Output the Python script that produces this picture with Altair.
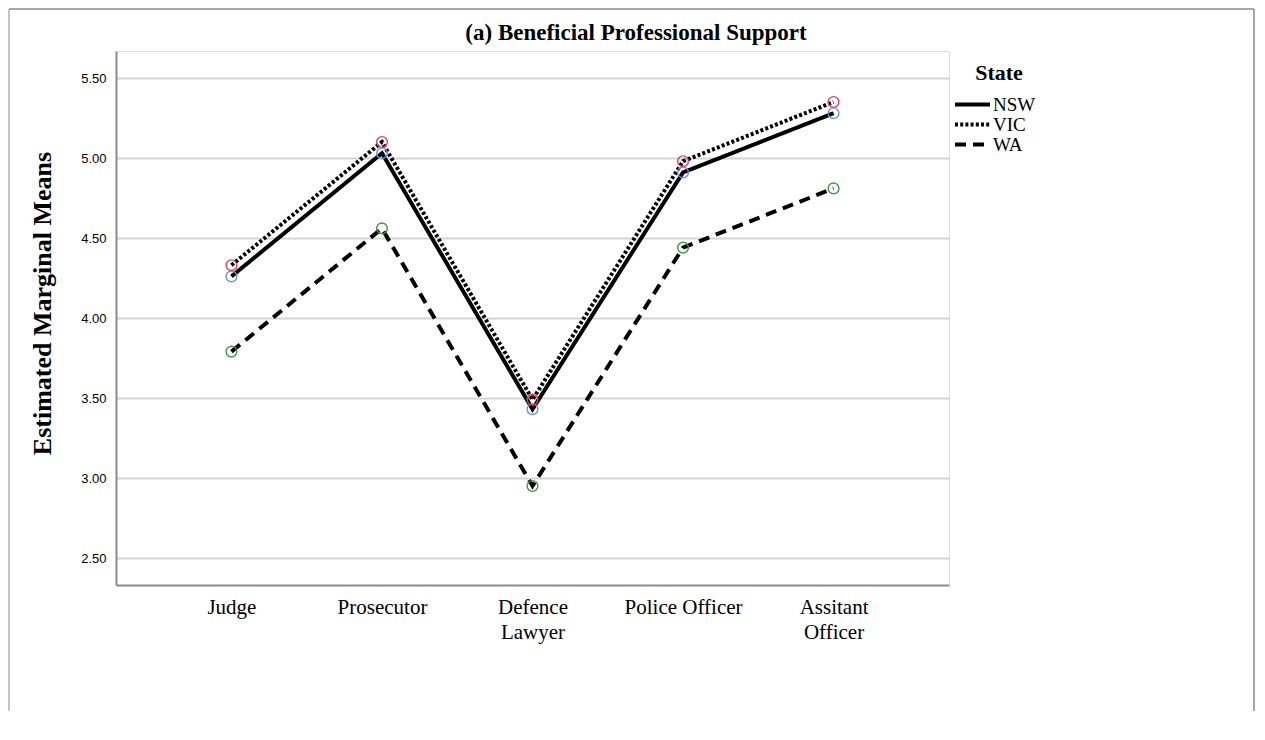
import altair as alt
import pandas as pd

roles = ["Judge", "Prosecutor", "Defence Lawyer", "Police Officer", "Assitant Officer"]
states = ["NSW", "VIC", "WA"]
nsw = [4.26, 5.03, 3.43, 4.91, 5.28]
vic = [4.33, 5.10, 3.49, 4.98, 5.35]
wa = [3.79, 4.56, 2.95, 4.44, 4.81]
marker_colors = ["#5f97df", "#dc3f5f", "#3f9a3f"]
y_ticks = [2.5, 3.0, 3.5, 4.0, 4.5, 5.0, 5.5]
title_text = "(a) Beneficial Professional Support"
y_title = "Estimated Marginal Means"

rows = []
for st, vals in zip(states, [nsw, vic, wa]):
    for r, v in zip(roles, vals):
        rows.append({"Role": r, "State": st, "Mean": v})
df = pd.DataFrame(rows)

SERIF = "Liberation Serif"
W, H = 833, 534

x_enc = alt.X("Role:N", sort=roles,
              scale=alt.Scale(type="point", domain=roles, padding=0.767),
              axis=alt.Axis(title=None, labelAngle=0, ticks=False, grid=False,
                            labelFont=SERIF, labelFontSize=21, labelColor="#000",
                            labelPadding=11, labelLineHeight=25,
                            labelExpr="datum.label == 'Police Officer' ? datum.label : split(datum.label, ' ')",
                            domainColor="#8c8c8c", domainWidth=2))
y_enc = alt.Y("Mean:Q",
              scale=alt.Scale(domain=[2.33125, 5.66875], nice=False, zero=False),
              axis=alt.Axis(title=y_title, values=y_ticks, format=".2f", ticks=False,
                            labelFont="Liberation Sans", labelFontSize=13, labelColor="#000",
                            labelPadding=10, grid=True, gridColor="#d4d4d4", gridWidth=2,
                            domainColor="#8c8c8c", domainWidth=2,
                            titleFont=SERIF, titleFontSize=26, titleFontWeight="bold",
                            titleColor="#000", titlePadding=25, titleY=252))

lines = alt.Chart(df).mark_line(color="black", strokeWidth=4).encode(
    x=x_enc, y=y_enc,
    detail="State:N",
    strokeDash=alt.StrokeDash("State:N",
        scale=alt.Scale(domain=states, range=[[1, 0], [3, 2.2], [11, 7]]),
        legend=alt.Legend(title="State", orient="none", legendX=847, legendY=12,
                          symbolType="M-3.5,0H3.5", symbolSize=100, symbolStrokeWidth=4,
                          symbolStrokeColor="black", symbolFillColor="transparent",
                          titleFont=SERIF, titleFontSize=22,
                          titleFontWeight="bold", titleColor="#000", titleAnchor="middle",
                          titlePadding=10, labelFont=SERIF, labelFontSize=19, labelColor="#000",
                          labelOffset=11, rowPadding=0))
)

point_layers = [
    alt.Chart(df[df["State"] == st]).mark_point(
        filled=False, size=115, strokeWidth=1.4, opacity=1, color=c
    ).encode(x=x_enc, y=y_enc)
    for st, c in zip(states, marker_colors)
]

ttl = alt.Chart(pd.DataFrame({"t": [title_text]})).mark_text(
    font=SERIF, fontSize=23, fontWeight="bold", color="#000", align="center", baseline="alphabetic"
).encode(text="t:N", x=alt.value(520), y=alt.value(-11))

frame_df = pd.DataFrame({"k": [0]})
fl = alt.Chart(frame_df).mark_rule(color="#8a8a8a", strokeWidth=1).encode(
    x=alt.value(-107), y=alt.value(-42), y2=alt.value(660))
fr = alt.Chart(frame_df).mark_rule(color="#8a8a8a", strokeWidth=1.5).encode(
    x=alt.value(1138), y=alt.value(-42), y2=alt.value(660))
ft = alt.Chart(frame_df).mark_rule(color="#8a8a8a", strokeWidth=1.5).encode(
    x=alt.value(-107), x2=alt.value(1138), y=alt.value(-42))

chart = alt.layer(fl, fr, ft, ttl, lines, *point_layers).properties(
    width=W, height=H, padding=0
).configure_view(stroke=None).configure(background="white")

chart.save("out.html", embed_options={"renderer": "svg", "actions": False})
